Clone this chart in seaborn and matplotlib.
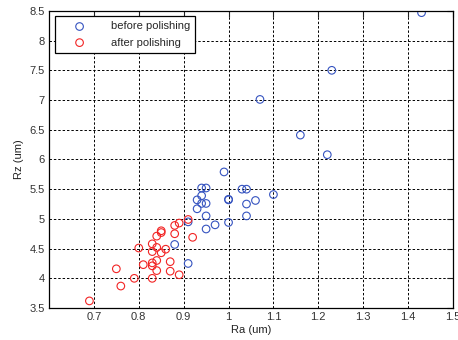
import numpy as np
import pandas as pd
import matplotlib
matplotlib.use('Agg')
import matplotlib.pyplot as plt
import seaborn as sns

# === DATA ===
ra_before = [0.88, 0.91, 0.91, 0.93, 0.93, 0.94, 0.95, 0.94, 0.94, 0.95,
             0.95, 0.95, 0.97, 0.99, 1.00, 1.00, 1.00, 1.03, 1.04, 1.04,
             1.06, 1.04, 1.10, 1.07, 1.16, 1.22, 1.23, 1.43]
rz_before = [4.57, 4.25, 4.95, 5.17, 5.32, 5.52, 5.52, 5.39, 5.26, 5.26,
             5.05, 4.83, 4.90, 5.79, 5.33, 5.32, 4.94, 5.50, 5.50, 5.25,
             5.31, 5.05, 5.41, 7.01, 6.41, 6.08, 7.50, 8.47]

ra_after = [0.69, 0.75, 0.76, 0.79, 0.80, 0.81, 0.83, 0.83, 0.83, 0.83,
            0.83, 0.84, 0.84, 0.84, 0.84, 0.85, 0.85, 0.85, 0.86, 0.87,
            0.87, 0.88, 0.88, 0.89, 0.89, 0.91, 0.92]
rz_after = [3.62, 4.16, 3.87, 4.00, 4.51, 4.23, 4.58, 4.45, 4.26, 4.21,
            4.00, 4.71, 4.52, 4.30, 4.13, 4.43, 4.80, 4.77, 4.49, 4.28,
            4.12, 4.75, 4.89, 4.93, 4.06, 4.99, 4.69]

x_ticks = [0.7, 0.8, 0.9, 1.0, 1.1, 1.2, 1.3, 1.4, 1.5]
x_tick_labels = ['0.7', '0.8', '0.9', '1', '1.1', '1.2', '1.3', '1.4', '1.5']
y_ticks = [3.5, 4, 4.5, 5, 5.5, 6, 6.5, 7, 7.5, 8, 8.5]
y_tick_labels = ['3.5', '4', '4.5', '5', '5.5', '6', '6.5', '7', '7.5', '8', '8.5']

before = pd.DataFrame({'Ra': ra_before, 'Rz': rz_before})
after = pd.DataFrame({'Ra': ra_after, 'Rz': rz_after})

# === STYLE ===
sns.set_style('white')
plt.rcParams['font.family'] = ['Liberation Sans', 'DejaVu Sans']
plt.rcParams['font.size'] = 8

fig = plt.figure(figsize=(4.58, 3.40), dpi=100)
ax = fig.add_axes([0.107, 0.094, 0.882, 0.874])

sns.scatterplot(data=before, x='Ra', y='Rz', ax=ax, marker='o', s=30,
                facecolor='none', edgecolor='#3553c0', linewidth=0.8,
                label='before polishing')
sns.scatterplot(data=after, x='Ra', y='Rz', ax=ax, marker='o', s=30,
                facecolor='none', edgecolor='#f22424', linewidth=0.8,
                label='after polishing')

ax.set_xlim(0.6, 1.5)
ax.set_ylim(3.5, 8.5)
ax.set_xticks(x_ticks)
ax.set_xticklabels(x_tick_labels)
ax.set_yticks(y_ticks)
ax.set_yticklabels(y_tick_labels)
ax.tick_params(direction='in', length=4, width=0.8, top=True, right=True,
               labelsize=8, colors='#222222', labelcolor='#333333', pad=3)
ax.grid(True, color='black', linestyle=(0, (2.5, 2.0)), linewidth=0.7)
ax.set_axisbelow(True)
for sp in ax.spines.values():
    sp.set_color('black')
    sp.set_linewidth(0.9)

ax.set_xlabel('Ra (um)', fontsize=8, color='#222222', labelpad=2)
ax.set_ylabel('Rz (um)', fontsize=8, color='#222222', labelpad=4)

leg = ax.legend(loc='upper left', fancybox=False, framealpha=1,
                edgecolor='black', fontsize=8, borderaxespad=0.5,
                handletextpad=1.0, borderpad=0.45, labelspacing=0.55,
                handlelength=3.6)
leg.get_frame().set_linewidth(0.9)

fig.savefig('out.png', dpi=100)
